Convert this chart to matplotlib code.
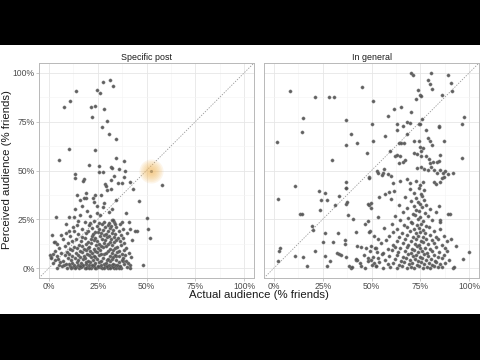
import matplotlib
matplotlib.use('Agg')
import matplotlib.pyplot as plt
from matplotlib.patches import Rectangle
from matplotlib.ticker import FixedLocator

panel_titles = ['Specific post', 'In general']
tick_values = [0, 0.25, 0.5, 0.75, 1.0]
minor_values = [0.125, 0.375, 0.625, 0.875]
tick_labels = ['0%', '25%', '50%', '75%', '100%']
x_label = 'Actual audience (% friends)'
y_label = 'Perceived audience (% friends)'
highlight_point = (0.521, 0.497)

specific_points = [
    # sparse upper points
    (0.315, 0.964), (0.276, 0.952), (0.327, 0.930), (0.245, 0.913), (0.262, 0.896), (0.139, 0.908),
    (0.108, 0.858), (0.080, 0.827), (0.217, 0.826), (0.235, 0.828), (0.281, 0.817), (0.220, 0.776),
    (0.298, 0.752), (0.271, 0.725), (0.306, 0.685), (0.342, 0.663), (0.102, 0.609), (0.237, 0.605),
    (0.054, 0.552), (0.345, 0.564), (0.205, 0.528), (0.257, 0.523), (0.384, 0.547), (0.318, 0.520),
    (0.322, 0.514), (0.357, 0.506), (0.391, 0.496), (0.255, 0.492), (0.276, 0.492), (0.135, 0.480),
    (0.135, 0.462), (0.181, 0.458), (0.176, 0.446), (0.333, 0.472), (0.386, 0.465), (0.320, 0.451),
    (0.286, 0.429), (0.294, 0.421), (0.352, 0.436), (0.377, 0.434), (0.415, 0.441), (0.577, 0.427),
    (0.433, 0.407), (0.316, 0.403), (0.298, 0.402), (0.190, 0.386), (0.193, 0.359), (0.235, 0.376),
    (0.267, 0.374), (0.146, 0.374), (0.162, 0.349), (0.178, 0.357), (0.228, 0.359), (0.232, 0.340),
    (0.281, 0.335), (0.342, 0.349), (0.464, 0.344), (0.135, 0.304), (0.169, 0.320), (0.245, 0.320),
    (0.276, 0.311), (0.196, 0.292), (0.245, 0.282), (0.306, 0.287), (0.323, 0.301), (0.394, 0.284),
    (0.036, 0.262), (0.103, 0.262), (0.129, 0.262), (0.162, 0.270), (0.213, 0.265), (0.264, 0.274),
    (0.321, 0.246), (0.332, 0.238), (0.151, 0.241), (0.213, 0.232), (0.259, 0.232), (0.377, 0.234),
    (0.503, 0.255), (0.506, 0.202), (0.519, 0.157), (0.453, 0.191), (0.416, 0.200), (0.088, 0.224),
    (0.124, 0.212), (0.017, 0.169), (0.032, 0.135), (0.005, 0.070), (0.010, 0.060), (0.484, 0.015),
    (0.415, 0.002),
    # dense lower cluster
    (0.042, 0.003), (0.068, 0.009), (0.093, 0.001), (0.107, 0.012), (0.124, 0.004), (0.141, 0.007),
    (0.153, 0.000), (0.172, 0.011), (0.184, 0.002), (0.198, 0.006), (0.214, 0.001), (0.227, 0.010),
    (0.243, 0.003), (0.262, 0.008), (0.271, 0.000), (0.288, 0.012), (0.302, 0.002), (0.318, 0.007),
    (0.334, 0.001), (0.352, 0.009), (0.371, 0.003), (0.398, 0.006),
    (0.116, 0.000), (0.133, 0.002), (0.163, 0.004), (0.191, 0.000), (0.206, 0.003), (0.236, 0.001),
    (0.253, 0.004), (0.281, 0.002), (0.296, 0.005), (0.311, 0.000), (0.327, 0.004), (0.343, 0.002),
    (0.361, 0.000), (0.147, 0.016), (0.176, 0.018), (0.204, 0.014), (0.233, 0.019), (0.266, 0.016),
    (0.297, 0.013), (0.323, 0.019), (0.351, 0.016),
    (0.053, 0.019), (0.078, 0.014), (0.104, 0.022), (0.127, 0.016), (0.162, 0.013), (0.188, 0.021),
    (0.219, 0.017), (0.251, 0.011), (0.283, 0.020), (0.309, 0.015), (0.338, 0.018), (0.362, 0.013),
    (0.387, 0.021), (0.418, 0.016),
    (0.021, 0.027), (0.058, 0.031), (0.087, 0.024), (0.118, 0.029), (0.143, 0.033), (0.167, 0.025),
    (0.193, 0.030), (0.212, 0.034), (0.238, 0.026), (0.259, 0.032), (0.292, 0.027), (0.314, 0.035),
    (0.327, 0.023), (0.358, 0.030), (0.382, 0.036), (0.407, 0.028),
    (0.033, 0.041), (0.072, 0.038), (0.112, 0.044), (0.148, 0.040), (0.177, 0.046), (0.203, 0.039),
    (0.228, 0.043), (0.247, 0.048), (0.268, 0.037), (0.297, 0.042), (0.321, 0.047), (0.346, 0.040),
    (0.373, 0.044), (0.396, 0.039),
    (0.012, 0.052), (0.049, 0.049), (0.098, 0.054), (0.133, 0.051), (0.158, 0.057), (0.186, 0.050),
    (0.217, 0.055), (0.236, 0.059), (0.277, 0.053), (0.304, 0.049), (0.329, 0.056), (0.343, 0.061),
    (0.378, 0.052), (0.421, 0.058),
    (0.041, 0.063), (0.083, 0.066), (0.121, 0.061), (0.152, 0.068), (0.181, 0.064), (0.208, 0.070),
    (0.232, 0.062), (0.256, 0.067), (0.284, 0.071), (0.312, 0.065), (0.337, 0.069), (0.361, 0.063),
    (0.392, 0.068),
    (0.024, 0.074), (0.062, 0.078), (0.101, 0.072), (0.138, 0.077), (0.169, 0.081), (0.196, 0.073),
    (0.221, 0.079), (0.249, 0.083), (0.268, 0.075), (0.293, 0.080), (0.323, 0.076), (0.348, 0.082),
    (0.373, 0.074), (0.409, 0.079),
    (0.031, 0.088), (0.092, 0.085), (0.119, 0.091), (0.161, 0.087), (0.189, 0.093), (0.213, 0.086),
    (0.238, 0.090), (0.263, 0.095), (0.301, 0.088), (0.331, 0.092), (0.358, 0.086), (0.383, 0.094),
    (0.054, 0.101), (0.108, 0.097), (0.142, 0.104), (0.178, 0.099), (0.202, 0.106), (0.229, 0.100),
    (0.252, 0.103), (0.279, 0.108), (0.313, 0.098), (0.341, 0.105), (0.397, 0.101),
    (0.083, 0.113), (0.127, 0.109), (0.171, 0.116), (0.208, 0.111), (0.243, 0.118), (0.266, 0.112),
    (0.291, 0.115), (0.322, 0.120), (0.349, 0.110), (0.372, 0.117),
    (0.042, 0.124), (0.098, 0.128), (0.153, 0.121), (0.191, 0.126), (0.218, 0.131), (0.258, 0.123),
    (0.283, 0.129), (0.303, 0.125), (0.334, 0.132), (0.387, 0.127),
    (0.118, 0.137), (0.163, 0.141), (0.202, 0.135), (0.233, 0.143), (0.247, 0.138), (0.289, 0.146),
    (0.311, 0.136), (0.342, 0.144), (0.363, 0.139), (0.428, 0.142),
    (0.072, 0.151), (0.138, 0.148), (0.183, 0.155), (0.214, 0.150), (0.239, 0.157), (0.272, 0.152),
    (0.298, 0.159), (0.318, 0.149), (0.353, 0.156), (0.382, 0.153),
    (0.028, 0.133), (0.108, 0.164), (0.168, 0.161), (0.223, 0.167), (0.262, 0.163), (0.281, 0.170),
    (0.309, 0.165), (0.332, 0.160), (0.371, 0.168),
    (0.089, 0.178), (0.149, 0.175), (0.193, 0.181), (0.228, 0.177), (0.253, 0.184), (0.268, 0.179),
    (0.292, 0.174), (0.324, 0.182), (0.339, 0.176), (0.402, 0.180),
    (0.128, 0.189), (0.201, 0.193), (0.238, 0.187), (0.277, 0.195), (0.302, 0.190), (0.327, 0.197),
    (0.357, 0.191), (0.441, 0.188),
    (0.063, 0.168), (0.171, 0.203), (0.219, 0.208), (0.258, 0.201), (0.287, 0.210), (0.313, 0.205),
    (0.346, 0.212), (0.378, 0.199),
    (0.143, 0.219), (0.208, 0.223), (0.247, 0.216), (0.271, 0.227), (0.301, 0.220), (0.318, 0.214),
    (0.338, 0.224),
    (0.101, 0.193), (0.186, 0.236), (0.229, 0.242), (0.283, 0.239), (0.309, 0.231), (0.331, 0.245),
    (0.362, 0.228), (0.409, 0.237),
]

general_points = [
    # sparse points
    (0.704, 0.998), (0.712, 0.988), (0.804, 1.000), (0.892, 0.988), (0.787, 0.961), (0.797, 0.944),
    (0.809, 0.918), (0.909, 0.947), (0.914, 0.908), (0.736, 0.913), (0.748, 0.887), (0.751, 0.879),
    (0.729, 0.868), (0.861, 0.885), (0.083, 0.909), (0.212, 0.875), (0.281, 0.874), (0.306, 0.875),
    (0.450, 0.925), (0.509, 0.858), (0.614, 0.814), (0.651, 0.824), (0.702, 0.797), (0.582, 0.778),
    (0.152, 0.769), (0.371, 0.756), (0.760, 0.762), (0.633, 0.738), (0.663, 0.726), (0.682, 0.749),
    (0.699, 0.745), (0.743, 0.737), (0.750, 0.740), (0.504, 0.738), (0.843, 0.730), (0.846, 0.721),
    (0.778, 0.708), (0.628, 0.706), (0.971, 0.776), (0.961, 0.740), (0.144, 0.696), (0.396, 0.689),
    (0.682, 0.689), (0.567, 0.679), (0.015, 0.648), (0.372, 0.631), (0.425, 0.643), (0.509, 0.651),
    (0.640, 0.642), (0.652, 0.640), (0.668, 0.640), (0.717, 0.651), (0.745, 0.651), (0.789, 0.667),
    (0.799, 0.650), (0.812, 0.631), (0.871, 0.651), (0.748, 0.619), (0.763, 0.614), (0.751, 0.602),
    (0.594, 0.602), (0.477, 0.588), (0.298, 0.552), (0.717, 0.588), (0.731, 0.585), (0.751, 0.576),
    (0.618, 0.576), (0.633, 0.580), (0.648, 0.576), (0.780, 0.576), (0.795, 0.559), (0.851, 0.578),
    (0.643, 0.540), (0.663, 0.545), (0.672, 0.552), (0.797, 0.540), (0.816, 0.542), (0.833, 0.545),
    (0.843, 0.550), (0.963, 0.566), (0.734, 0.515), (0.753, 0.520), (0.770, 0.508), (0.790, 0.503),
    (0.805, 0.520), (0.819, 0.503), (0.836, 0.489), (0.851, 0.503), (0.865, 0.486), (0.876, 0.497),
    (0.892, 0.482), (0.915, 0.485), (0.530, 0.496), (0.565, 0.506), (0.557, 0.487), (0.584, 0.482),
    (0.601, 0.474), (0.487, 0.467), (0.609, 0.436), (0.648, 0.448), (0.684, 0.458), (0.697, 0.438),
    (0.748, 0.426), (0.819, 0.439), (0.832, 0.431), (0.853, 0.443), (0.861, 0.460), (0.871, 0.465),
    (0.110, 0.422), (0.367, 0.439), (0.369, 0.409),
    (0.024, 0.352), (0.030, 0.101), (0.025, 0.087), (0.022, 0.036), (0.110, 0.062), (0.152, 0.055),
    (0.168, 0.009), (0.135, 0.279), (0.146, 0.279), (0.230, 0.395), (0.262, 0.383), (0.240, 0.350),
    (0.271, 0.347), (0.234, 0.297), (0.371, 0.412), (0.335, 0.368), (0.315, 0.321), (0.367, 0.330),
    (0.374, 0.338), (0.379, 0.270), (0.404, 0.250), (0.195, 0.215), (0.201, 0.195), (0.264, 0.178),
    (0.250, 0.133), (0.213, 0.087), (0.264, 0.062), (0.274, 0.009), (0.289, 0.038), (0.305, 0.135),
    (0.327, 0.178), (0.321, 0.077), (0.332, 0.075), (0.342, 0.070), (0.365, 0.144), (0.365, 0.126),
    (0.367, 0.055), (0.387, 0.010), (0.394, 0.000), (0.421, 0.183), (0.428, 0.113), (0.420, 0.044),
    (0.428, 0.041), (0.448, 0.110), (0.446, 0.012),
    (0.489, 0.463), (0.535, 0.485), (0.552, 0.475), (0.489, 0.323), (0.497, 0.309), (0.537, 0.366),
    (0.569, 0.379), (0.589, 0.391), (0.613, 0.393), (0.599, 0.354), (0.481, 0.327), (0.498, 0.334),
    (0.531, 0.263), (0.467, 0.226), (0.481, 0.243), (0.491, 0.192), (0.486, 0.183), (0.511, 0.164),
    (0.531, 0.148), (0.474, 0.106), (0.497, 0.113), (0.521, 0.101), (0.528, 0.084), (0.481, 0.053),
    (0.499, 0.043), (0.511, 0.026), (0.523, 0.012),
    (1.000, 0.084), (0.966, 0.046), (0.917, 0.000), (0.934, 0.113), (0.905, 0.150), (0.887, 0.137),
    (0.904, 0.275), (0.890, 0.277), (0.844, 0.318), (0.848, 0.246),
    # dense lower cluster
    (0.402, 0.004), (0.468, 0.001), (0.523, 0.011), (0.561, 0.003), (0.597, 0.008), (0.628, 0.000),
    (0.657, 0.012), (0.683, 0.002), (0.703, 0.007), (0.718, 0.000), (0.741, 0.010), (0.763, 0.003),
    (0.782, 0.008), (0.801, 0.001), (0.822, 0.011), (0.838, 0.004), (0.862, 0.006), (0.921, 0.005),
    (0.443, 0.027), (0.502, 0.019), (0.538, 0.031), (0.583, 0.022), (0.612, 0.028), (0.641, 0.017),
    (0.668, 0.030), (0.692, 0.021), (0.709, 0.026), (0.731, 0.018), (0.752, 0.032), (0.771, 0.023),
    (0.792, 0.027), (0.811, 0.016), (0.829, 0.033), (0.852, 0.021), (0.878, 0.028),
    (0.421, 0.047), (0.483, 0.039), (0.532, 0.051), (0.571, 0.041), (0.618, 0.046), (0.652, 0.038),
    (0.679, 0.052), (0.698, 0.043), (0.722, 0.049), (0.739, 0.037), (0.758, 0.050), (0.779, 0.044),
    (0.803, 0.048), (0.827, 0.039), (0.861, 0.053), (0.897, 0.042),
    (0.462, 0.066), (0.508, 0.058), (0.553, 0.071), (0.592, 0.061), (0.633, 0.068), (0.661, 0.057),
    (0.687, 0.072), (0.712, 0.063), (0.728, 0.067), (0.748, 0.059), (0.769, 0.073), (0.791, 0.062),
    (0.818, 0.066), (0.841, 0.058), (0.872, 0.070),
    (0.492, 0.087), (0.561, 0.079), (0.603, 0.091), (0.637, 0.082), (0.671, 0.088), (0.701, 0.077),
    (0.719, 0.092), (0.738, 0.081), (0.757, 0.086), (0.783, 0.078), (0.808, 0.090), (0.847, 0.083),
    (0.886, 0.087),
    (0.518, 0.106), (0.582, 0.099), (0.622, 0.111), (0.648, 0.101), (0.682, 0.107), (0.708, 0.098),
    (0.731, 0.112), (0.749, 0.103), (0.772, 0.105), (0.797, 0.097), (0.832, 0.110), (0.878, 0.101),
    (0.548, 0.127), (0.609, 0.119), (0.663, 0.131), (0.689, 0.121), (0.721, 0.126), (0.742, 0.118),
    (0.762, 0.132), (0.787, 0.122), (0.819, 0.128), (0.861, 0.120),
    (0.573, 0.146), (0.628, 0.139), (0.672, 0.151), (0.703, 0.141), (0.728, 0.147), (0.752, 0.138),
    (0.778, 0.152), (0.812, 0.143), (0.841, 0.147),
    (0.592, 0.167), (0.641, 0.159), (0.681, 0.171), (0.712, 0.161), (0.739, 0.166), (0.761, 0.158),
    (0.798, 0.170), (0.828, 0.162), (0.869, 0.167),
    (0.611, 0.186), (0.658, 0.179), (0.699, 0.191), (0.727, 0.181), (0.748, 0.187), (0.772, 0.178),
    (0.818, 0.190),
    (0.562, 0.207), (0.631, 0.199), (0.683, 0.211), (0.718, 0.201), (0.741, 0.206), (0.763, 0.198),
    (0.792, 0.210), (0.852, 0.203),
    (0.603, 0.226), (0.668, 0.219), (0.709, 0.231), (0.733, 0.221), (0.752, 0.227), (0.781, 0.218),
    (0.648, 0.246), (0.701, 0.239), (0.738, 0.251), (0.762, 0.241), (0.809, 0.247), (0.853, 0.238),
    (0.622, 0.266), (0.689, 0.259), (0.721, 0.271), (0.748, 0.261), (0.791, 0.267),
    (0.661, 0.286), (0.712, 0.279), (0.741, 0.291), (0.772, 0.281), (0.828, 0.288),
    (0.681, 0.306), (0.729, 0.299), (0.758, 0.311), (0.801, 0.301),
    (0.642, 0.326), (0.718, 0.319), (0.749, 0.331), (0.781, 0.321),
    (0.702, 0.346), (0.738, 0.339), (0.768, 0.349),
    (0.671, 0.366), (0.729, 0.359), (0.758, 0.371),
    (0.719, 0.386), (0.752, 0.379),
    (0.698, 0.406), (0.742, 0.413), (0.769, 0.401),
    (0.728, 0.446), (0.761, 0.439),
]

FONT = ['Liberation Sans', 'DejaVu Sans']

fig = plt.figure(figsize=(4.8, 3.6), dpi=100, facecolor='black')
fig.patches.append(Rectangle((0, 46 / 360), 1, 269 / 360, transform=fig.transFigure,
                             facecolor='white', edgecolor='none', zorder=-10))

bottom = (360 - 278) / 360
height = 215 / 360
width = 215 / 480
ax_left = fig.add_axes([39 / 480, bottom, width, height])
ax_right = fig.add_axes([264 / 480, bottom, width, height])

for ax, title, pts in [(ax_left, panel_titles[0], specific_points),
                       (ax_right, panel_titles[1], general_points)]:
    ax.set_facecolor('white')
    ax.set_xlim(-0.05, 1.05)
    ax.set_ylim(-0.05, 1.05)
    ax.xaxis.set_major_locator(FixedLocator(tick_values))
    ax.yaxis.set_major_locator(FixedLocator(tick_values))
    ax.xaxis.set_minor_locator(FixedLocator(minor_values))
    ax.yaxis.set_minor_locator(FixedLocator(minor_values))
    ax.set_xticklabels(tick_labels, fontfamily=FONT)
    ax.set_yticklabels(tick_labels, fontfamily=FONT)
    ax.grid(True, which='major', color='#e6e6e6', lw=0.6, zorder=0)
    ax.grid(True, which='minor', color='#f3f3f3', lw=0.4, zorder=0)
    ax.set_axisbelow(True)
    for sp in ax.spines.values():
        sp.set_color('#b8b8b8')
        sp.set_linewidth(0.7)
    ax.tick_params(which='major', length=2, width=0.5, color='#b3b3b3',
                   labelsize=6.2, labelcolor='#4d4d4d', pad=1.2)
    ax.tick_params(which='minor', length=0)
    ax.set_title(title, fontsize=6.4, color='#1a1a1a', pad=2, fontfamily=FONT)
    ax.plot([-0.05, 1.05], [-0.05, 1.05], ls=(0, (1.6, 1.6)), color='#9a9a9a', lw=0.6, zorder=1)
    xs = [p[0] for p in pts]
    ys = [p[1] for p in pts]
    ax.scatter(xs, ys, s=5.5, c='#505050', edgecolors='#7e7e7e', linewidths=0.3,
               alpha=0.9, zorder=3)

ax_right.tick_params(axis='y', left=False, labelleft=False)

# highlighted point glow
for s in [300, 230, 170, 120, 80, 45, 20]:
    ax_left.scatter([highlight_point[0]], [highlight_point[1]], s=s, color='#f3b85c',
                    alpha=0.13, linewidths=0, zorder=4)
ax_left.scatter([highlight_point[0]], [highlight_point[1]], s=5, color='#b89a6a',
                linewidths=0, zorder=5)

fig.text(259 / 480, 1 - 295.5 / 360, x_label, ha='center', va='center', fontsize=8.2,
         color='#1a1a1a', fontfamily=FONT)
fig.text(7.5 / 480, 1 - 170 / 360, y_label, ha='center', va='center', rotation=90,
         fontsize=8.2, color='#1a1a1a', fontfamily=FONT)

fig.savefig('out.png', dpi=100, facecolor='black')
